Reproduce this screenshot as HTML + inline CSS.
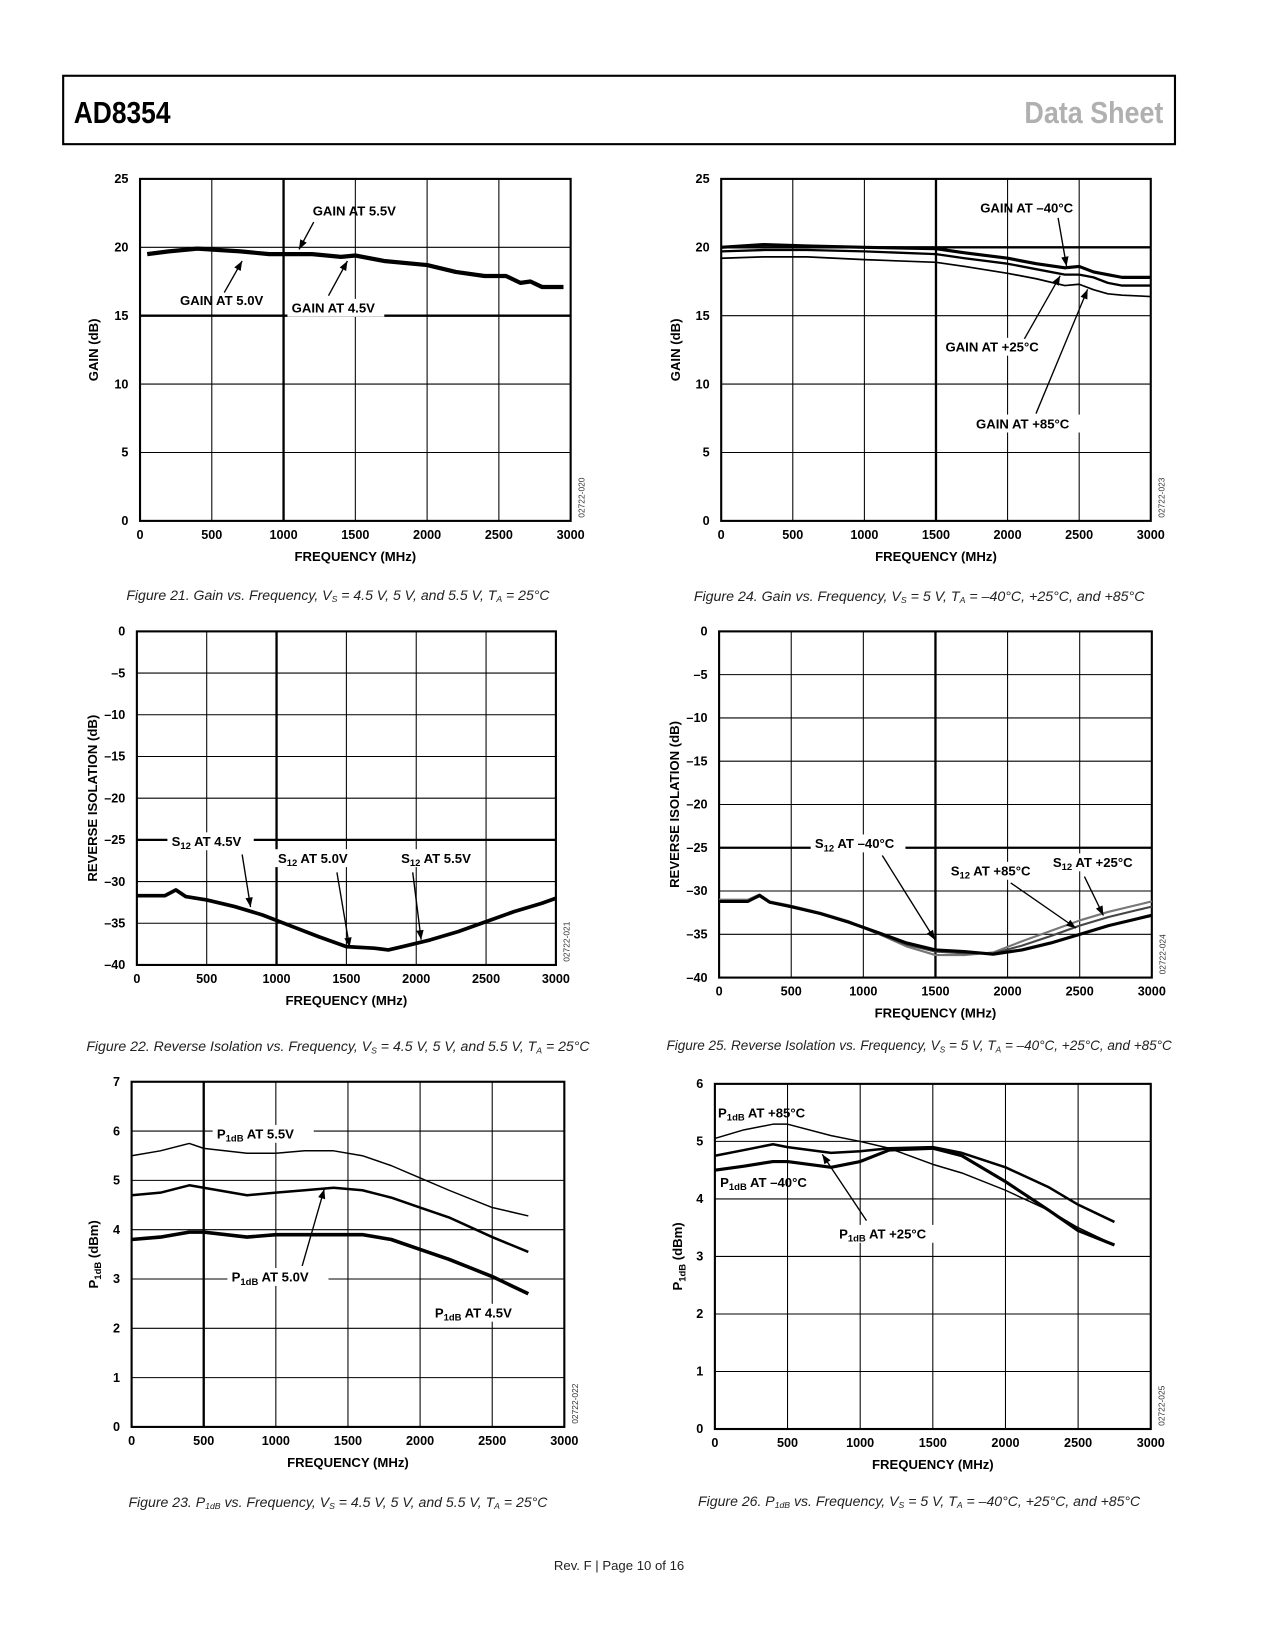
<!DOCTYPE html>
<html><head><meta charset="utf-8">
<style>
html,body{margin:0;padding:0;background:#fff;}
svg{display:block;}
text{font-family:"Liberation Sans",Arial,sans-serif;}
.tk{font-size:12px;font-weight:bold;fill:#000;}
.lb{font-size:12.5px;font-weight:bold;fill:#000;}
.cap{font-size:13px;font-style:italic;fill:#222;}
.code{font-size:8px;fill:#333;}
</style></head>
<body>
<svg id="page" width="1275" height="1650" viewBox="0 0 1211 1568" preserveAspectRatio="none" xmlns="http://www.w3.org/2000/svg">
<rect x="0" y="0" width="1211" height="1568" fill="#fff"/>
<g>
<rect x="60" y="72" width="1056" height="65" fill="none" stroke="#000" stroke-width="2"/>
<text x="70" y="117" font-size="29" font-weight="bold" textLength="92" lengthAdjust="spacingAndGlyphs">AD8354</text>
<text x="1105" y="117" font-size="29" font-weight="bold" fill="#b0b0b0" text-anchor="end" textLength="132" lengthAdjust="spacingAndGlyphs">Data Sheet</text>
</g>
<g id="charts"></g>
<text x="588" y="1492" font-size="12.5" fill="#222" text-anchor="middle">Rev. F | Page 10 of 16</text>
</svg>
<script>
// ---------- data ----------
const fig21Freq = [50,200,400,700,900,1200,1400,1500,1700,2000,2200,2400,2550,2650,2720,2800,2950];
const fig21Gain = [19.5,19.7,19.9,19.7,19.5,19.5,19.3,19.4,19.0,18.7,18.2,17.9,17.9,17.4,17.5,17.1,17.1];

const fig24Freq = [0,300,600,1000,1500,1700,2000,2200,2400,2500,2600,2700,2800,3000];
const fig24GainM40 = [20.0,20.2,20.1,20.0,19.9,19.6,19.2,18.8,18.5,18.6,18.2,18.0,17.8,17.8];
const fig24GainP25 = [19.7,19.8,19.8,19.7,19.5,19.2,18.8,18.4,18.0,18.0,17.8,17.4,17.2,17.2];
const fig24GainP85 = [19.2,19.3,19.3,19.1,18.9,18.6,18.1,17.7,17.2,17.3,16.9,16.6,16.5,16.4];

const fig22Freq = [0,200,280,350,500,700,900,1100,1300,1500,1700,1800,1900,2100,2300,2500,2700,2900,3000];
const fig22Iso = [-31.7,-31.7,-31.0,-31.8,-32.2,-33.0,-34.0,-35.3,-36.6,-37.8,-38.0,-38.2,-37.8,-37.0,-36.0,-34.8,-33.6,-32.6,-32.0];

const fig25Freq = [0,200,280,350,500,700,900,1100,1300,1500,1700,1900,2100,2300,2500,2700,2900,3000];
const fig25IsoM40 = [-31.2,-31.2,-30.5,-31.3,-31.8,-32.6,-33.6,-34.8,-36.0,-36.8,-37.0,-37.3,-36.8,-36.0,-35.0,-34.0,-33.2,-32.8];
const fig25IsoP25 = [-31.2,-31.2,-30.6,-31.3,-31.8,-32.6,-33.6,-34.9,-36.2,-37.0,-37.2,-37.2,-36.3,-35.2,-34.0,-33.0,-32.2,-31.8];
const fig25IsoP85 = [-31.0,-31.0,-30.4,-31.2,-31.7,-32.5,-33.5,-34.9,-36.4,-37.4,-37.4,-37.1,-35.8,-34.6,-33.4,-32.4,-31.6,-31.2];

const fig23Freq = [0,200,400,500,800,1000,1200,1400,1600,1800,2000,2200,2500,2750];
const fig23P55 = [5.5,5.6,5.75,5.65,5.55,5.55,5.6,5.6,5.5,5.3,5.05,4.8,4.45,4.28];
const fig23P50 = [4.7,4.75,4.9,4.85,4.7,4.75,4.8,4.85,4.8,4.65,4.45,4.25,3.85,3.55];
const fig23P45 = [3.8,3.85,3.95,3.95,3.85,3.9,3.9,3.9,3.9,3.8,3.6,3.4,3.05,2.7];

const fig26Freq = [0,200,400,500,800,1000,1200,1500,1700,2000,2300,2500,2750];
const fig26PP85 = [5.05,5.2,5.3,5.3,5.1,5.0,4.88,4.6,4.45,4.15,3.8,3.5,3.2];
const fig26PM40 = [4.5,4.57,4.65,4.65,4.55,4.65,4.85,4.88,4.75,4.3,3.8,3.45,3.2];
const fig26PP25 = [4.75,4.85,4.95,4.9,4.8,4.83,4.88,4.9,4.8,4.55,4.2,3.9,3.6];

const freqTicks = ["0","500","1000","1500","2000","2500","3000"];

// ---------- drawing ----------
const NS = "http://www.w3.org/2000/svg";
const root = document.getElementById("charts");
function mk(tag, attrs, parent) {
  const e = document.createElementNS(NS, tag);
  for (const k in attrs) e.setAttribute(k, attrs[k]);
  (parent || root).appendChild(e);
  return e;
}
function chart(cfg) {
  const g = mk("g", {});
  
  
  const {x0, x1, y0, y1, ymin, ymax, ystep} = cfg;
  const sx = f => x0 + (f / 3000) * (x1 - x0);
  const sy = v => y1 - (v - ymin) / (ymax - ymin) * (y1 - y0);
  for (let v = ymin + ystep; v < ymax - 1e-9; v += ystep) {
    const l = mk("line", {x1: x0, x2: x1, y1: sy(v), y2: sy(v), stroke: "#000", "stroke-width": (cfg.boldY === v ? 2.2 : 1)}, g);
    
    
  }
  for (let f = 500; f < 3000; f += 500) {
    const l = mk("line", {x1: sx(f), x2: sx(f), y1: y0, y2: y1, stroke: "#000", "stroke-width": (cfg.boldX === f ? 2.2 : 1)}, g);
    
    
  }
  const fr = mk("rect", {x: x0, y: y0, width: x1 - x0, height: y1 - y0, fill: "none", stroke: "#000", "stroke-width": 2}, g);
  
  
  for (let v = ymin; v <= ymax + 1e-9; v += ystep) {
    const t = mk("text", {x: x0 - 11, y: sy(v) + 4, "text-anchor": "end", class: "tk"}, g);
    t.textContent = (v < 0 ? "\u2013" + Math.abs(v) : String(v));
    
    
  }
  freqTicks.forEach((s, i) => {
    const t = mk("text", {x: sx(+s), y: y1 + 17, "text-anchor": "middle", class: "tk"}, g);
    t.textContent = s;
    
    
  });
  const xt = mk("text", {x: (x0 + x1) / 2, y: y1 + 38, "text-anchor": "middle", class: "lb"}, g);
  xt.textContent = "FREQUENCY (MHz)";
  
  
  const yt = mk("text", {x: 0, y: 0, "text-anchor": "middle", class: "lb", transform: `translate(${cfg.ytx},${(y0 + y1) / 2}) rotate(-90)`}, g);
  if (cfg.ysub) {
    yt.appendChild(document.createTextNode("P"));
    const s = mk("tspan", {"font-size": "9", dy: "3"}, yt); s.textContent = "1dB";
    const r = mk("tspan", {dy: "-3"}, yt); r.textContent = " (dBm)";
  } else yt.textContent = cfg.ytitle;
  
  
  const cd = mk("text", {x: 0, y: 0, class: "code", "text-anchor": "start", transform: `translate(${x1 + 13},${y1 - 3}) rotate(-90)`}, g);
  cd.textContent = cfg.code;
  
  
  cfg.series.forEach(s => {
    const d = s.f.map((f, i) => (i ? "L" : "M") + sx(f).toFixed(1) + "," + sy(s.v[i]).toFixed(1)).join(" ");
    const p = mk("path", {d: d, fill: "none", stroke: s.c || "#000", "stroke-width": s.w, "stroke-linejoin": "round"}, g);
    
    
  });
  cfg.labels.forEach(L => {
    if (L.bg) mk("rect", {x: L.x - 4, y: L.y - 13, width: L.bw, height: 17, fill: "#fff"}, g);
    const t = mk("text", {x: L.x, y: L.y, class: "lb"}, g);
    if (L.sub) {
      t.appendChild(document.createTextNode(L.pre));
      const s = mk("tspan", {"font-size": "9", dy: "3"}, t); s.textContent = L.sub;
      const r = mk("tspan", {dy: "-3"}, t); r.textContent = L.post;
    } else t.textContent = L.t;
    
    
    if (L.a) {
      const [ax, ay, bx, by] = L.a;
      mk("line", {x1: ax, y1: ay, x2: bx, y2: by, stroke: "#000", "stroke-width": 1.3}, g);
      const ang = Math.atan2(by - ay, bx - ax), len = 9, hw = 3.5;
      const px = bx - len * Math.cos(ang), py = by - len * Math.sin(ang);
      const pts = `${bx},${by} ${px + hw * Math.sin(ang)},${py - hw * Math.cos(ang)} ${px - hw * Math.sin(ang)},${py + hw * Math.cos(ang)}`;
      const ah = mk("polygon", {points: pts, fill: "#000"}, g);
      
      
    }
  });
  const c = mk("text", {x: cfg.capx, y: cfg.capy, "text-anchor": "middle", class: "cap", textLength: cfg.capw, lengthAdjust: "spacingAndGlyphs"}, g);
  c.innerHTML = cfg.cap;
  
  
}

chart({name: "figure-21-gain-vs-frequency-supply", x0: 133, x1: 542, y0: 170, y1: 495, ymin: 0, ymax: 25, ystep: 5, boldY: 15, boldX: 1000,
  ytx: 93, ytitle: "GAIN (dB)", code: "02722-020",
  series: [{name: "gain-line", f: fig21Freq, v: fig21Gain, w: 4}],
  labels: [{t: "GAIN AT 5.5V", x: 297, y: 205, a: [298, 211, 284, 237]},
           {t: "GAIN AT 5.0V", x: 171, y: 290, a: [213, 278, 230, 248]},
           {t: "GAIN AT 4.5V", x: 277, y: 297, bg: 1, bw: 92, a: [312, 281, 330, 248]}],
  capx: 321, capy: 570, capw: 402, cap: 'Figure 21. Gain vs. Frequency, V<tspan font-size="8" dy="2">S</tspan><tspan dy="-2"> = 4.5 V, 5 V, and 5.5 V, T</tspan><tspan font-size="8" dy="2">A</tspan><tspan dy="-2"> = 25°C</tspan>'});

chart({name: "figure-24-gain-vs-frequency-temperature", x0: 685, x1: 1093, y0: 170, y1: 495, ymin: 0, ymax: 25, ystep: 5, boldY: 20, boldX: 1500,
  ytx: 646, ytitle: "GAIN (dB)", code: "02722-023",
  series: [{name: "gain-minus-40c", f: fig24Freq, v: fig24GainM40, w: 3},
           {name: "gain-plus-25c", f: fig24Freq, v: fig24GainP25, w: 2.2},
           {name: "gain-plus-85c", f: fig24Freq, v: fig24GainP85, w: 1.6}],
  labels: [{t: "GAIN AT \u201340\u00B0C", x: 931, y: 202, a: [1005, 207, 1013, 253]},
           {t: "GAIN AT +25\u00B0C", x: 898, y: 334, bg: 1, bw: 106, a: [973, 322, 1007, 262]},
           {t: "GAIN AT +85\u00B0C", x: 927, y: 407, bg: 1, bw: 106, a: [984, 393, 1033, 275]}],
  capx: 873, capy: 571, capw: 428, cap: 'Figure 24. Gain vs. Frequency, V<tspan font-size="8" dy="2">S</tspan><tspan dy="-2"> = 5 V, T</tspan><tspan font-size="8" dy="2">A</tspan><tspan dy="-2"> = \u201340°C, +25°C, and +85°C</tspan>'});

chart({name: "figure-22-reverse-isolation-supply", x0: 130, x1: 528, y0: 600, y1: 917, ymin: -40, ymax: 0, ystep: 5, boldY: -25, boldX: 1000,
  ytx: 92, ytitle: "REVERSE ISOLATION (dB)", code: "02722-021",
  series: [{name: "isolation-line", f: fig22Freq, v: fig22Iso, w: 3.5}],
  labels: [{pre: "S", sub: "12", post: " AT 4.5V", x: 163, y: 804, bg: 1, bw: 82, a: [230, 812, 238, 862]},
           {pre: "S", sub: "12", post: " AT 5.0V", x: 264, y: 820, bg: 1, bw: 82, a: [320, 829, 332, 900]},
           {pre: "S", sub: "12", post: " AT 5.5V", x: 381, y: 820, bg: 1, bw: 82, a: [392, 829, 400, 893]}],
  capx: 321, capy: 999, capw: 478, cap: 'Figure 22. Reverse Isolation vs. Frequency, V<tspan font-size="8" dy="2">S</tspan><tspan dy="-2"> = 4.5 V, 5 V, and 5.5 V, T</tspan><tspan font-size="8" dy="2">A</tspan><tspan dy="-2"> = 25°C</tspan>'});

chart({name: "figure-25-reverse-isolation-temperature", x0: 683, x1: 1094, y0: 600, y1: 929, ymin: -40, ymax: 0, ystep: 5, boldY: -25, boldX: 1500,
  ytx: 645, ytitle: "REVERSE ISOLATION (dB)", code: "02722-024",
  series: [{name: "isolation-plus-85c", f: fig25Freq, v: fig25IsoP85, w: 2, c: "#777"},
           {name: "isolation-plus-25c", f: fig25Freq, v: fig25IsoP25, w: 2, c: "#444"},
           {name: "isolation-minus-40c", f: fig25Freq, v: fig25IsoM40, w: 3, c: "#000"}],
  labels: [{pre: "S", sub: "12", post: " AT \u201340\u00B0C", x: 774, y: 806, bg: 1, bw: 90, a: [838, 813, 888, 893]},
           {pre: "S", sub: "12", post: " AT +85\u00B0C", x: 903, y: 832, bg: 1, bw: 92, a: [960, 839, 1022, 882]},
           {pre: "S", sub: "12", post: " AT +25\u00B0C", x: 1000, y: 824, bg: 1, bw: 92, a: [1030, 833, 1048, 870]}],
  capx: 873, capy: 998, capw: 480, cap: 'Figure 25. Reverse Isolation vs. Frequency, V<tspan font-size="8" dy="2">S</tspan><tspan dy="-2"> = 5 V, T</tspan><tspan font-size="8" dy="2">A</tspan><tspan dy="-2"> = \u201340°C, +25°C, and +85°C</tspan>'});

chart({name: "figure-23-p1db-supply", x0: 125, x1: 536, y0: 1028, y1: 1356, ymin: 0, ymax: 7, ystep: 1, boldX: 500,
  ytx: 93, ysub: 1, code: "02722-022",
  series: [{name: "p1db-5v5", f: fig23Freq, v: fig23P55, w: 1.4},
           {name: "p1db-5v0", f: fig23Freq, v: fig23P50, w: 2.4},
           {name: "p1db-4v5", f: fig23Freq, v: fig23P45, w: 3.4}],
  labels: [{pre: "P", sub: "1dB", post: " AT 5.5V", x: 206, y: 1082, bg: 1, bw: 96},
           {pre: "P", sub: "1dB", post: " AT 5.0V", x: 220, y: 1218, bg: 1, bw: 96, a: [287, 1203, 308, 1130]},
           {pre: "P", sub: "1dB", post: " AT 4.5V", x: 413, y: 1252, bg: 1, bw: 96}],
  capx: 321, capy: 1432, capw: 398, cap: 'Figure 23. P<tspan font-size="8" dy="2">1dB</tspan><tspan dy="-2"> vs. Frequency, V</tspan><tspan font-size="8" dy="2">S</tspan><tspan dy="-2"> = 4.5 V, 5 V, and 5.5 V, T</tspan><tspan font-size="8" dy="2">A</tspan><tspan dy="-2"> = 25°C</tspan>'});

chart({name: "figure-26-p1db-temperature", x0: 679, x1: 1093, y0: 1030, y1: 1358, ymin: 0, ymax: 6, ystep: 1,
  ytx: 648, ysub: 1, code: "02722-025",
  series: [{name: "p1db-plus-85c", f: fig26Freq, v: fig26PP85, w: 1.4},
           {name: "p1db-plus-25c", f: fig26Freq, v: fig26PP25, w: 2.4},
           {name: "p1db-minus-40c", f: fig26Freq, v: fig26PM40, w: 3}],
  labels: [{pre: "P", sub: "1dB", post: " AT +85\u00B0C", x: 682, y: 1062},
           {pre: "P", sub: "1dB", post: " AT \u201340\u00B0C", x: 684, y: 1128},
           {pre: "P", sub: "1dB", post: " AT +25\u00B0C", x: 797, y: 1177, bg: 1, bw: 104, a: [823, 1160, 781, 1097]}],
  capx: 873, capy: 1431, capw: 420, cap: 'Figure 26. P<tspan font-size="8" dy="2">1dB</tspan><tspan dy="-2"> vs. Frequency, V</tspan><tspan font-size="8" dy="2">S</tspan><tspan dy="-2"> = 5 V, T</tspan><tspan font-size="8" dy="2">A</tspan><tspan dy="-2"> = \u201340°C, +25°C, and +85°C</tspan>'});
</script>
</body></html>
